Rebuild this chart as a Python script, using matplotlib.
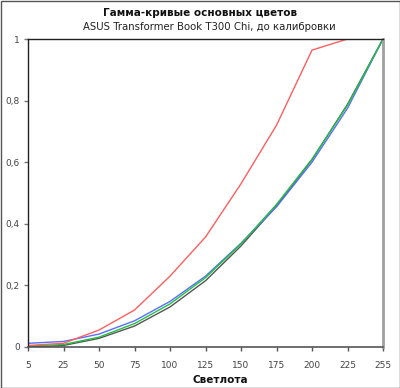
import matplotlib
matplotlib.use("Agg")
import matplotlib.pyplot as plt
from matplotlib.patches import Rectangle

categories = ["5", "25", "50", "75", "100", "125", "150", "175", "200", "225", "255"]
gray_vals = [0.0, 0.005, 0.028, 0.068, 0.13, 0.215, 0.328, 0.458, 0.608, 0.788, 1.0]
blue_vals = [0.012, 0.018, 0.042, 0.085, 0.148, 0.23, 0.337, 0.455, 0.600, 0.775, 1.0]
green_vals = [0.003, 0.008, 0.032, 0.076, 0.140, 0.225, 0.335, 0.463, 0.610, 0.785, 1.0]
red_vals = [0.005, 0.012, 0.055, 0.12, 0.23, 0.357, 0.53, 0.72, 0.964, 1.0, 1.0]
yticks = [0, 0.2, 0.4, 0.6, 0.8, 1]
ytick_labels = ["0", "0,2", "0,4", "0,6", "0,8", "1"]

plt.rcParams['font.family'] = ['DejaVu Sans']
fig = plt.figure(figsize=(4.0, 3.88), dpi=100)
ax = fig.add_axes([28/400, 1-347/388, 355/400, 308/388])
x = list(range(len(categories)))

ax.plot(x, gray_vals, color="#555555", lw=1.0, zorder=2)
ax.plot(x, blue_vals, color="#5a6cff", lw=1.0, zorder=3)
ax.plot(x, green_vals, color="#22c040", lw=1.0, zorder=4)
ax.plot(x, red_vals, color="#ff5e5e", lw=1.0, zorder=5)

ax.set_xlim(0, len(categories)-1)
ax.set_ylim(0, 1)
ax.set_xticks(x)
ax.set_xticklabels(categories, fontsize=6.5, color="#444444")
ax.set_yticks(yticks)
ax.set_yticklabels(ytick_labels, fontsize=6.5, color="#444444")
ax.tick_params(axis='x', length=3, width=1, color="#555555", pad=7)
ax.tick_params(axis='y', length=3, width=1, color="#777777", pad=3)

for s in ["left", "top"]:
    ax.spines[s].set_color("#222222")
    ax.spines[s].set_linewidth(1.0)
ax.spines["right"].set_color("#a0a0a0")
ax.spines["right"].set_linewidth(2.0)
ax.spines["bottom"].set_color("#555555")
ax.spines["bottom"].set_linewidth(1.2)
for s in ax.spines.values():
    s.set_zorder(10)

fig.text(0.5, 1-13/388, "Гамма-кривые основных цветов", ha="center", va="center",
         fontsize=7.5, fontweight="bold", color="#111111")
fig.text(0.523, 1-27/388, "ASUS Transformer Book T300 Chi, до калибровки", ha="center",
         va="center", fontsize=7.3, color="#222222")
fig.text(220/400, 1-380/388, "Светлота", ha="center", va="center",
         fontsize=7.5, fontweight="bold", color="#111111")

fig.patches.append(Rectangle((0.5/400, 0.5/388), 1-1/400, 1-1/388, transform=fig.transFigure,
                             fill=False, edgecolor="#555555", lw=1.0))

fig.savefig("out.png", dpi=100)
